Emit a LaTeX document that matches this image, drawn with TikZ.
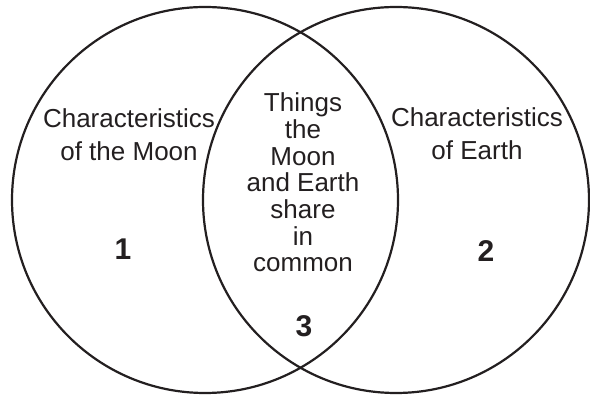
\documentclass[tikz,border=0pt]{standalone}
\usepackage{fontspec}
\setmainfont{Liberation Sans}
\usetikzlibrary{positioning}
\definecolor{inkcolor}{RGB}{35,31,32}
\tikzset{
  ring/.style   = {circle, draw=inkcolor, line width=2.2pt, minimum size=386pt, inner sep=0pt},
  side/.style   = {align=center, text=inkcolor, inner sep=0pt, anchor=base,
                   font=\fontsize{26}{33}\selectfont},
  shared/.style = {align=center, text=inkcolor, inner sep=0pt, anchor=base,
                   font=\fontsize{26}{26.7}\selectfont},
  num/.style    = {text=inkcolor, inner sep=0pt, anchor=base,
                   font=\fontsize{30}{30}\selectfont\bfseries},
}

\begin{document}
\begin{tikzpicture}[x=1pt, y=-1pt]
  \useasboundingbox (0,0) rectangle (590,395);
  % the two sets
  \node[ring] (moon)  at (205,200) {};
  \node[ring] (earth) at (396,200) {};
  % labels of the regions (anchored at the last baseline)
  \node[side] (moonlbl)  at (129,161) {Characteristics\\of the Moon};
  \node[side] (earthlbl) at (477,160) {Characteristics\\of Earth};
  \node[shared] (bothlbl) at (303,272) {Things\\the\\Moon\\and Earth\\share\\in\\common};
  \node[num] (one)   at (123,260) {1};
  \node[num] (two)   at (486,262) {2};
  \node[num] (three) at (304,337) {3};
\end{tikzpicture}
\end{document}
